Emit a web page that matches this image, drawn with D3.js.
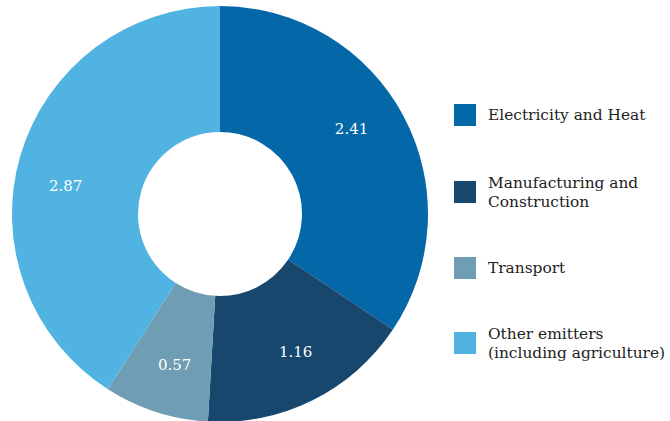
<!DOCTYPE html>
<html>
<head>
<meta charset="utf-8">
<script src="https://cdn.jsdelivr.net/npm/d3@7"></script>
<style>
  body { margin: 0; background: #fff; }
  svg { display: block; font-family: Georgia, "DejaVu Serif", serif; }
</style>
</head>
<body>
<svg id="chart" width="670" height="421"></svg>
<script>
const categories = ['Electricity and Heat', 'Manufacturing and Construction', 'Transport', 'Other emitters (including agriculture)'];
const values = [2.41, 1.16, 0.57, 2.87];
const legendLines = [
  ['Electricity and Heat'],
  ['Manufacturing and', 'Construction'],
  ['Transport'],
  ['Other emitters', '(including agriculture)']
];
const colors = ['#0467a8', '#18476e', '#6f9db3', '#50b3e2'];

const data = categories.map((c, i) => ({ category: c, value: values[i], lines: legendLines[i] }));

const svg = d3.select('#chart');
const cx = 220, cy = 214;
const outerR = 208, innerR = 82;

const color = d3.scaleOrdinal().domain(categories).range(colors);

const pie = d3.pie().value(d => d.value).sort(null);
const arc = d3.arc().innerRadius(innerR).outerRadius(outerR);
const labelArc = d3.arc().innerRadius(157).outerRadius(157);

const g = svg.append('g').attr('transform', `translate(${cx},${cy})`);

// 조각
g.selectAll('path')
  .data(pie(data))
  .enter()
  .append('path')
  .attr('d', arc)
  .attr('fill', d => color(d.data.category));

// 값 라벨 (중심각을 살짝 반시계 방향으로)
g.selectAll('text.value')
  .data(pie(data))
  .enter()
  .append('text')
  .attr('class', 'value')
  .attr('transform', d => {
    const shift = (d.endAngle - d.startAngle) * 0.04;
    const c = labelArc.centroid({ startAngle: d.startAngle - shift, endAngle: d.endAngle - shift });
    return `translate(${c})`;
  })
  .attr('text-anchor', 'middle')
  .attr('dy', '0.35em')
  .style('fill', '#fff')
  .style('font-size', '15px')
  .text(d => d.value.toFixed(2));

// 범례
const legendTop = [115, 192, 268, 343]; // 항목별 세로 중심
const legend = svg.append('g').attr('transform', 'translate(454,0)');
const item = legend.selectAll('g.item')
  .data(data)
  .enter()
  .append('g')
  .attr('class', 'item')
  .attr('transform', (d, i) => `translate(0,${legendTop[i]})`);

item.append('rect')
  .attr('x', 0)
  .attr('y', -11)
  .attr('width', 22)
  .attr('height', 22)
  .attr('fill', d => color(d.category));

item.each(function (d) {
  const n = d.lines.length;
  const t = d3.select(this).append('text')
    .attr('x', 34)
    .style('font-size', '15.4px')
    .style('fill', '#222');
  d.lines.forEach((line, j) => {
    t.append('tspan')
      .attr('x', 34)
      .attr('y', (j - (n - 1) / 2) * 19)
      .attr('dy', '0.35em')
      .text(line);
  });
});
</script>
</body>
</html>
